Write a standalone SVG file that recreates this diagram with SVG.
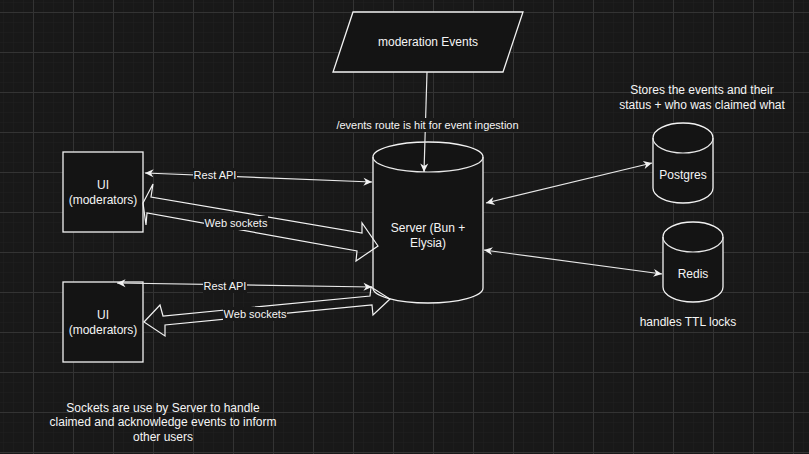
<svg xmlns="http://www.w3.org/2000/svg" width="809" height="454" viewBox="0 0 809 454">
<style>
  .shape { fill: #141414; stroke: #f2f2f2; stroke-width: 1.3; }
  .line { fill: none; stroke: #e8e8e8; stroke-width: 1.2; }
  .flex { fill: none; stroke: #f2f2f2; stroke-width: 1.2; stroke-linejoin: miter; }
  .lbg { fill: #181818; }
  text { font-family: "Liberation Sans", Arial, Helvetica, sans-serif; fill: #f5f5f5; font-size: 12px; text-anchor: middle; dominant-baseline: central; }
  .el { font-size: 11px; }
</style>
<defs>
  <pattern id="minor" x="3" y="2" width="10" height="10" patternUnits="userSpaceOnUse">
    <path d="M0,0 L10,0 M0,0 L0,10" stroke="#1f1f1f" stroke-width="1" fill="none"/>
  </pattern>
  <pattern id="major" x="33" y="12" width="40" height="40" patternUnits="userSpaceOnUse">
    <path d="M0,0.5 L40,0.5 M0.5,0 L0.5,40" stroke="#333333" stroke-width="1" fill="none"/>
  </pattern>
  <marker id="ah" viewBox="-9 -5 10 10" refX="0" refY="0" markerWidth="10" markerHeight="10" markerUnits="userSpaceOnUse" orient="auto-start-reverse">
    <path d="M0,0 L-8.5,-4 L-6,0 L-8.5,4 Z" fill="#f2f2f2"/>
  </marker>
</defs>
<rect width="809" height="454" fill="#181818"/>
<rect width="809" height="454" fill="url(#minor)"/>
<rect width="809" height="454" fill="url(#major)"/>

<g id="moderation-events">
  <polygon class="shape" points="353,12 523,12 503,72 333,72"/>
  <text x="428" y="42">moderation Events</text>
</g>

<g id="server">
  <path class="shape" d="M373,157 A55,15 0 0 1 483,157 L483,288 A55,15 0 0 1 373,288 Z"/>
  <path class="line" d="M373,157 A55,15 0 0 0 483,157" stroke="#f2f2f2" stroke-width="1.3"/>
  <text x="428" y="228">Server (Bun +</text>
  <text x="428" y="243">Elysia)</text>
</g>

<g id="postgres">
  <path class="shape" d="M653,138 A30,15 0 0 1 713,138 L713,188 A30,15 0 0 1 653,188 Z"/>
  <path class="line" d="M653,138 A30,15 0 0 0 713,138" stroke="#f2f2f2" stroke-width="1.3"/>
  <text x="683" y="175">Postgres</text>
</g>

<g id="redis">
  <path class="shape" d="M663,237 A30,15 0 0 1 723,237 L723,287 A30,15 0 0 1 663,287 Z"/>
  <path class="line" d="M663,237 A30,15 0 0 0 723,237" stroke="#f2f2f2" stroke-width="1.3"/>
  <text x="693" y="274">Redis</text>
</g>

<g id="ui-1">
  <rect class="shape" x="63" y="152" width="80" height="80"/>
  <text x="103" y="185">UI</text>
  <text x="103" y="200">(moderators)</text>
</g>

<g id="ui-2">
  <rect class="shape" x="63" y="282" width="80" height="80"/>
  <text x="103" y="315">UI</text>
  <text x="103" y="330">(moderators)</text>
</g>

<g id="connectors">
  <line class="line" x1="427" y1="72" x2="424" y2="172" marker-end="url(#ah)"/>
  <rect class="lbg" x="336" y="118" width="184" height="14"/>
  <text class="el" x="427.5" y="125">/events route is hit for event ingestion</text>

  <line class="line" x1="486" y1="203" x2="652" y2="163" marker-start="url(#ah)" marker-end="url(#ah)"/>
  <line class="line" x1="484" y1="250" x2="662" y2="274" marker-start="url(#ah)" marker-end="url(#ah)"/>

  <line class="line" x1="145" y1="173" x2="372" y2="182" marker-start="url(#ah)" marker-end="url(#ah)"/>
  <rect class="lbg" x="193" y="168" width="44" height="14"/>
  <text class="el" x="215" y="175">Rest API</text>

  <polygon class="flex" points="143,203 153,184 151,197 362,233 362,223 378,246 356,261 357,251 147,213 146,225"/>
  <rect class="lbg" x="204" y="216" width="64" height="14"/>
  <text class="el" x="236" y="223">Web sockets</text>

  <line class="line" x1="117" y1="283" x2="372" y2="287" marker-start="url(#ah)" marker-end="url(#ah)"/>
  <rect class="lbg" x="203" y="279" width="44" height="14"/>
  <text class="el" x="225" y="286">Rest API</text>

  <polygon class="flex" points="144,322 160,305 163,316 370,296 371,287 390,299 373,315 372,305 165,325 165,336"/>
  <rect class="lbg" x="223" y="307" width="64" height="14"/>
  <text class="el" x="255" y="314">Web sockets</text>
</g>

<g id="note-postgres">
  <text x="702" y="90">Stores the events and their</text>
  <text x="702" y="105">status + who was claimed what</text>
</g>

<g id="note-redis">
  <text x="688" y="322">handles TTL locks</text>
</g>

<g id="note-sockets">
  <text x="163" y="408">Sockets are use by Server to handle</text>
  <text x="163" y="422">claimed and acknowledge events to inform</text>
  <text x="163" y="437">other users</text>
</g>
</svg>
